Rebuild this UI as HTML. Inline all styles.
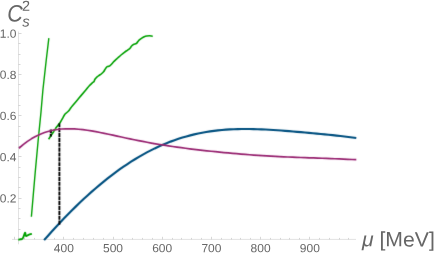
<!DOCTYPE html>
<html><head><meta charset="utf-8">
<style>
html,body{margin:0;padding:0;background:#fff;}
body{width:436px;height:257px;overflow:hidden;position:relative;font-family:"Liberation Sans",sans-serif;}
svg{position:absolute;left:0;top:0;will-change:transform;}
text{font-family:"Liberation Sans",sans-serif;fill:#666;}
.tl{font-size:12px;}
</style></head><body>
<svg width="436" height="257" viewBox="0 0 436 257">
<g stroke="#e2e2e2" stroke-width="1" fill="none">
<line x1="12" y1="239.4" x2="356" y2="239.4"/>
<line x1="18.5" y1="31.5" x2="18.5" y2="244.3"/>
</g>
<g stroke="#bcbcbc" stroke-width="0.6" fill="none">
<line x1="14.50" y1="239.40" x2="14.50" y2="236.80"/><line x1="24.50" y1="239.40" x2="24.50" y2="237.90"/><line x1="34.50" y1="239.40" x2="34.50" y2="237.90"/><line x1="44.50" y1="239.40" x2="44.50" y2="237.90"/><line x1="54.50" y1="239.40" x2="54.50" y2="237.90"/><line x1="63.50" y1="239.40" x2="63.50" y2="236.80"/><line x1="73.50" y1="239.40" x2="73.50" y2="237.90"/><line x1="83.50" y1="239.40" x2="83.50" y2="237.90"/><line x1="93.50" y1="239.40" x2="93.50" y2="237.90"/><line x1="103.50" y1="239.40" x2="103.50" y2="237.90"/><line x1="113.50" y1="239.40" x2="113.50" y2="236.80"/><line x1="122.50" y1="239.40" x2="122.50" y2="237.90"/><line x1="132.50" y1="239.40" x2="132.50" y2="237.90"/><line x1="142.50" y1="239.40" x2="142.50" y2="237.90"/><line x1="152.50" y1="239.40" x2="152.50" y2="237.90"/><line x1="162.50" y1="239.40" x2="162.50" y2="236.80"/><line x1="172.50" y1="239.40" x2="172.50" y2="237.90"/><line x1="181.50" y1="239.40" x2="181.50" y2="237.90"/><line x1="191.50" y1="239.40" x2="191.50" y2="237.90"/><line x1="201.50" y1="239.40" x2="201.50" y2="237.90"/><line x1="211.50" y1="239.40" x2="211.50" y2="236.80"/><line x1="221.50" y1="239.40" x2="221.50" y2="237.90"/><line x1="231.50" y1="239.40" x2="231.50" y2="237.90"/><line x1="240.50" y1="239.40" x2="240.50" y2="237.90"/><line x1="250.50" y1="239.40" x2="250.50" y2="237.90"/><line x1="260.50" y1="239.40" x2="260.50" y2="236.80"/><line x1="270.50" y1="239.40" x2="270.50" y2="237.90"/><line x1="280.50" y1="239.40" x2="280.50" y2="237.90"/><line x1="289.50" y1="239.40" x2="289.50" y2="237.90"/><line x1="299.50" y1="239.40" x2="299.50" y2="237.90"/><line x1="309.50" y1="239.40" x2="309.50" y2="236.80"/><line x1="319.50" y1="239.40" x2="319.50" y2="237.90"/><line x1="329.50" y1="239.40" x2="329.50" y2="237.90"/><line x1="339.50" y1="239.40" x2="339.50" y2="237.90"/><line x1="348.50" y1="239.40" x2="348.50" y2="237.90"/><line x1="18.50" y1="229.50" x2="20.50" y2="229.50"/><line x1="18.50" y1="218.50" x2="20.50" y2="218.50"/><line x1="18.50" y1="208.50" x2="20.50" y2="208.50"/><line x1="18.50" y1="198.50" x2="21.50" y2="198.50"/><line x1="18.50" y1="187.50" x2="20.50" y2="187.50"/><line x1="18.50" y1="177.50" x2="20.50" y2="177.50"/><line x1="18.50" y1="167.50" x2="20.50" y2="167.50"/><line x1="18.50" y1="156.50" x2="21.50" y2="156.50"/><line x1="18.50" y1="146.50" x2="20.50" y2="146.50"/><line x1="18.50" y1="136.50" x2="20.50" y2="136.50"/><line x1="18.50" y1="126.50" x2="20.50" y2="126.50"/><line x1="18.50" y1="115.50" x2="21.50" y2="115.50"/><line x1="18.50" y1="105.50" x2="20.50" y2="105.50"/><line x1="18.50" y1="95.50" x2="20.50" y2="95.50"/><line x1="18.50" y1="84.50" x2="20.50" y2="84.50"/><line x1="18.50" y1="74.50" x2="21.50" y2="74.50"/><line x1="18.50" y1="64.50" x2="20.50" y2="64.50"/><line x1="18.50" y1="54.50" x2="20.50" y2="54.50"/><line x1="18.50" y1="43.50" x2="20.50" y2="43.50"/><line x1="18.50" y1="33.50" x2="21.50" y2="33.50"/>
</g>
<defs><filter id="sb" x="-5%" y="-5%" width="110%" height="110%"><feConvolveMatrix order="3" kernelMatrix="0.0081 0.0738 0.0081 0.0738 0.6724 0.0738 0.0081 0.0738 0.0081" edgeMode="none"/></filter></defs>
<g filter="url(#sb)">
<path d="M44.10,240.15 L48.05,235.67 L52.00,231.27 L55.96,226.96 L59.91,222.72 L63.86,218.57 L67.81,214.50 L71.76,210.52 L75.72,206.62 L79.67,202.81 L83.62,199.09 L87.57,195.45 L91.52,191.91 L95.47,188.45 L99.43,185.09 L103.38,181.82 L107.33,178.65 L111.28,175.58 L115.23,172.60 L119.19,169.72 L123.14,166.95 L127.09,164.27 L131.04,161.69 L134.99,159.22 L138.95,156.85 L142.90,154.59 L146.85,152.42 L150.80,150.37 L154.75,148.41 L158.71,146.56 L162.66,144.81 L166.61,143.17 L170.56,141.62 L174.51,140.18 L178.46,138.83 L182.42,137.58 L186.37,136.43 L190.32,135.37 L194.27,134.41 L198.22,133.53 L202.18,132.74 L206.13,132.04 L210.08,131.42 L214.03,130.87 L217.98,130.41 L221.94,130.01 L225.89,129.69 L229.84,129.43 L233.79,129.24 L237.74,129.10 L241.69,129.03 L245.65,129.00 L249.60,129.02 L253.55,129.09 L257.50,129.20 L261.45,129.34 L265.41,129.53 L269.36,129.74 L273.31,129.98 L277.26,130.24 L281.21,130.52 L285.17,130.82 L289.12,131.14 L293.07,131.47 L297.02,131.81 L300.97,132.16 L304.93,132.52 L308.88,132.88 L312.83,133.25 L316.78,133.63 L320.73,134.01 L324.68,134.39 L328.64,134.79 L332.59,135.19 L336.54,135.60 L340.49,136.03 L344.44,136.48 L348.40,136.96 L352.35,137.46 L356.30,137.99" stroke="#00507f" stroke-width="2.15" fill="none" stroke-linejoin="round"/>
<g stroke="#00a000" stroke-width="1.4" fill="none" stroke-linejoin="round">
<path d="M18.30,239.70 C18.67,239.63 19.85,239.43 20.50,239.30 C21.15,239.17 21.68,239.37 22.20,238.90 C22.72,238.43 23.12,237.55 23.60,236.50 C24.08,235.45 24.65,232.70 25.05,232.60 C25.45,232.50 25.43,235.52 26.00,235.90 C26.57,236.28 27.52,235.25 28.50,234.90 C29.48,234.55 31.33,233.98 31.90,233.80" stroke-width="1.9"/>
<path d="M31.40,216.80 L33.26,195.00 L35.25,172.00 L38.20,140.00 L40.00,122.00 L41.00,112.00 L42.90,90.00 L46.25,60.00 L48.85,38.10"/>
<path d="M48.60,139.20 C48.73,139.00 48.92,138.72 49.40,138.00 C49.88,137.28 50.80,135.95 51.50,134.90 C52.20,133.85 52.78,132.97 53.60,131.70 C54.42,130.43 55.57,128.50 56.40,127.30 C57.23,126.10 57.92,125.38 58.60,124.50 C59.28,123.62 59.78,123.12 60.50,122.00 C61.22,120.88 62.19,119.07 62.90,117.80 C63.61,116.53 64.09,115.28 64.76,114.40 C65.43,113.52 66.23,113.12 66.90,112.50 C67.57,111.88 68.22,111.37 68.80,110.70 C69.38,110.03 69.78,109.28 70.36,108.50 C70.94,107.72 70.81,107.78 72.28,106.00 C73.75,104.22 76.95,100.47 79.20,97.80 C81.45,95.13 84.11,92.02 85.80,90.00 C87.49,87.98 88.22,86.92 89.33,85.70 C90.44,84.48 91.67,83.41 92.45,82.70 C93.23,82.00 93.59,82.04 94.00,81.47 C94.41,80.90 94.46,80.03 94.93,79.30 C95.40,78.57 96.07,77.77 96.80,77.10 C97.53,76.42 98.56,75.77 99.30,75.25 C100.04,74.73 100.48,74.64 101.23,74.00 C101.98,73.36 103.10,72.25 103.78,71.40 C104.46,70.55 104.76,69.68 105.33,68.90 C105.90,68.12 106.52,67.17 107.20,66.70 C107.88,66.23 108.73,66.47 109.40,66.10 C110.08,65.73 110.58,65.17 111.25,64.50 C111.92,63.83 112.68,62.82 113.40,62.05 C114.12,61.28 114.88,60.57 115.60,59.90 C116.32,59.23 116.75,58.86 117.70,58.00 C118.66,57.14 120.20,55.71 121.33,54.76 C122.45,53.80 123.41,53.05 124.45,52.27 C125.49,51.49 126.63,50.77 127.56,50.09 C128.49,49.41 129.38,48.88 130.05,48.20 C130.72,47.52 131.03,46.62 131.60,46.00 C132.17,45.38 132.69,44.91 133.47,44.50 C134.25,44.09 135.60,43.95 136.27,43.56 C136.94,43.17 136.96,42.73 137.47,42.13 C137.98,41.53 138.61,40.63 139.33,39.96 C140.05,39.29 140.97,38.64 141.80,38.10 C142.63,37.56 143.47,37.04 144.30,36.70 C145.13,36.36 145.97,36.19 146.80,36.04 C147.63,35.89 148.52,35.80 149.30,35.80 C150.08,35.80 150.90,35.94 151.47,36.04 C152.04,36.14 152.50,36.34 152.70,36.40" stroke-width="1.6"/>
</g>
<line x1="59.4" y1="123.20" x2="59.4" y2="224.7" stroke="#000" stroke-width="1.9" stroke-dasharray="4.12 0.75"/>
<line x1="50.85" y1="129.4" x2="50.85" y2="136.5" stroke="#000" stroke-width="2.2" stroke-dasharray="3.6 0.7 3.3 0"/>
<path d="M18.90,148.25 L23.17,144.61 L27.44,141.40 L31.71,138.60 L35.98,136.21 L40.25,134.19 L44.53,132.54 L48.80,131.22 L53.07,130.21 L57.34,129.48 L61.61,129.02 L65.88,128.78 L70.15,128.76 L74.42,128.92 L78.69,129.24 L82.96,129.70 L87.23,130.28 L91.51,130.95 L95.78,131.71 L100.05,132.52 L104.32,133.38 L108.59,134.27 L112.86,135.19 L117.13,136.11 L121.40,137.04 L125.67,137.96 L129.94,138.86 L134.21,139.75 L138.48,140.61 L142.76,141.45 L147.03,142.27 L151.30,143.05 L155.57,143.80 L159.84,144.52 L164.11,145.21 L168.38,145.88 L172.65,146.51 L176.92,147.13 L181.19,147.71 L185.46,148.27 L189.74,148.82 L194.01,149.34 L198.28,149.84 L202.55,150.33 L206.82,150.80 L211.09,151.26 L215.36,151.70 L219.63,152.13 L223.90,152.54 L228.17,152.94 L232.44,153.33 L236.72,153.70 L240.99,154.06 L245.26,154.41 L249.53,154.73 L253.80,155.05 L258.07,155.35 L262.34,155.63 L266.61,155.89 L270.88,156.14 L275.15,156.38 L279.42,156.59 L283.69,156.79 L287.97,156.98 L292.24,157.16 L296.51,157.33 L300.78,157.49 L305.05,157.64 L309.32,157.79 L313.59,157.94 L317.86,158.09 L322.13,158.24 L326.40,158.40 L330.67,158.57 L334.95,158.74 L339.22,158.93 L343.49,159.11 L347.76,159.30 L352.03,159.48 L356.30,159.65" stroke="#96206e" stroke-width="1.7" fill="none" stroke-linejoin="round"/>
</g>
<g class="tl" text-anchor="middle"><text transform="matrix(1 0.002 0 1 63.80 252.20)">400</text><text transform="matrix(1 0.002 0 1 113.00 252.20)">500</text><text transform="matrix(1 0.002 0 1 162.20 252.20)">600</text><text transform="matrix(1 0.002 0 1 211.40 252.20)">700</text><text transform="matrix(1 0.002 0 1 260.60 252.20)">800</text><text transform="matrix(1 0.002 0 1 309.80 252.20)">900</text></g>
<g class="tl" text-anchor="end"><text transform="matrix(1 0.002 0 1 16.45 202.50)">0.2</text><text transform="matrix(1 0.002 0 1 16.45 161.30)">0.4</text><text transform="matrix(1 0.002 0 1 16.45 120.10)">0.6</text><text transform="matrix(1 0.002 0 1 16.45 78.90)">0.8</text><text transform="matrix(1 0.002 0 1 16.45 37.70)">1.0</text></g>
<text transform="matrix(0.91 0.002 0 1 7.3 21.5)" font-size="23.6" font-style="italic">C</text>
<text transform="matrix(1 0.002 0 1 22 10.8)" font-size="14.5">2</text>
<text transform="matrix(1 0.002 0 1 22.3 26.4)" font-size="15" font-style="italic">s</text>
<text transform="matrix(1.03 0.002 0 1 361.9 246.3)" font-size="20.6"><tspan font-style="italic">μ</tspan> [MeV]</text>
</svg>
</body></html>
